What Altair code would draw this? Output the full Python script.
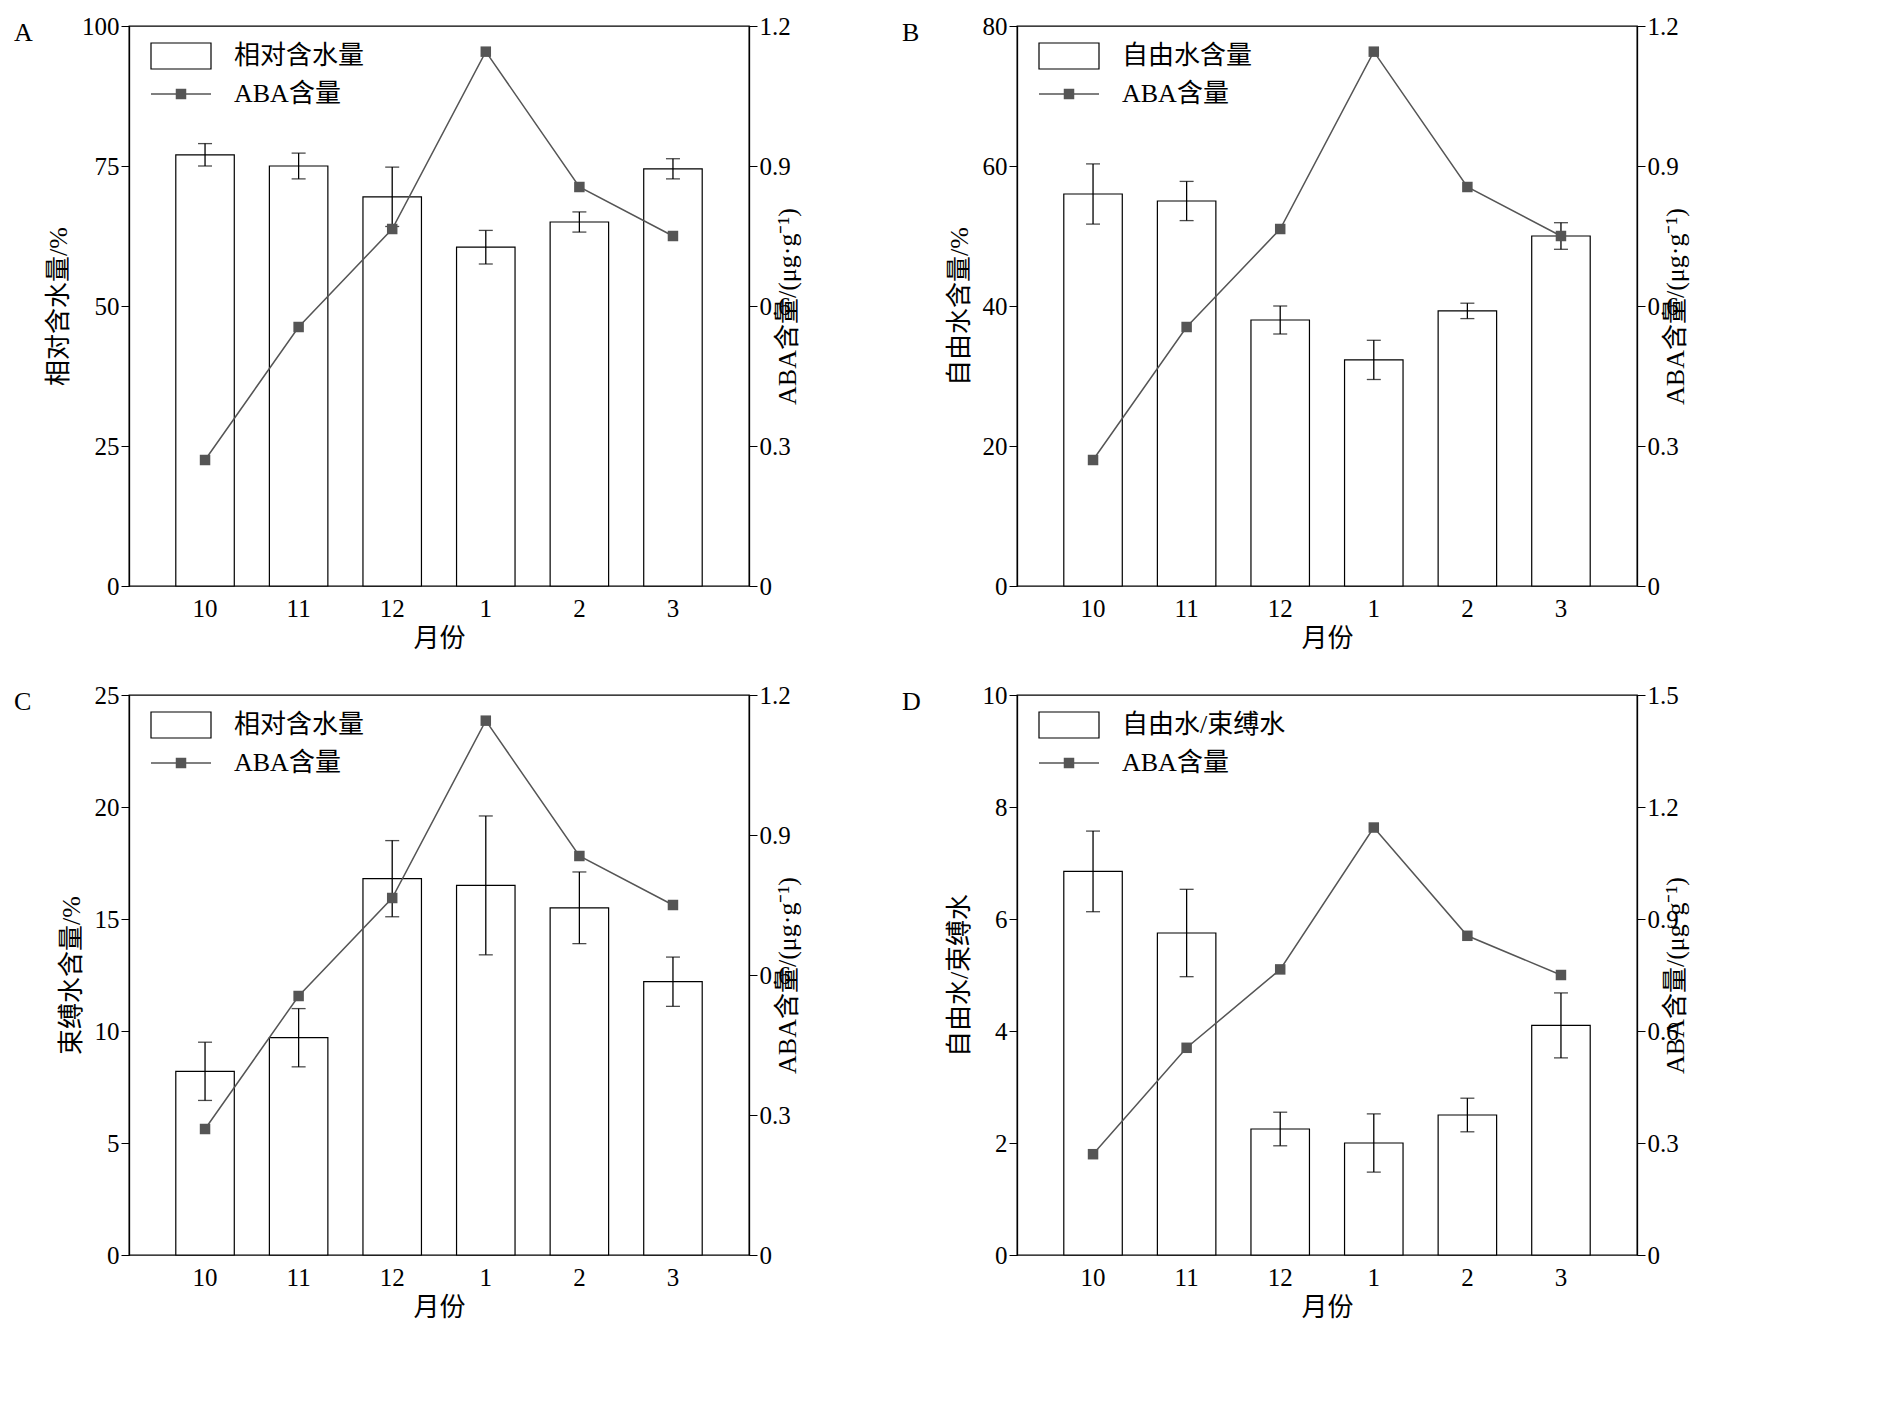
import altair as alt
import pandas as pd

months = ["10", "11", "12", "1", "2", "3"]
aba = [0.27, 0.555, 0.765, 1.145, 0.855, 0.75]

rwc = [77, 75, 69.5, 60.5, 65, 74.5]
rwc_err = [2.0, 2.3, 5.3, 3.0, 1.8, 1.8]
free = [56, 55, 38, 32.3, 39.3, 50]
free_err = [4.3, 2.8, 2.0, 2.8, 1.1, 1.9]
bound = [8.2, 9.7, 16.8, 16.5, 15.5, 12.2]
bound_err = [1.3, 1.3, 1.7, 3.1, 1.6, 1.1]
ratio = [6.85, 5.75, 2.25, 2.0, 2.5, 4.1]
ratio_err = [0.72, 0.78, 0.3, 0.52, 0.3, 0.58]

FONT = "Liberation Serif, Noto Sans CJK SC"
W, H = 620, 560


def panel(letter, vals, errs, ymax, ystep, ytitle, legend_label, rmax, rstep):
    df = pd.DataFrame({
        "m": months, "v": vals,
        "lo": [v - e for v, e in zip(vals, errs)],
        "hi": [v + e for v, e in zip(vals, errs)],
        "aba": aba,
    })
    x = alt.X("m:N", sort=months, title="月份",
              scale=alt.Scale(paddingInner=0.375, paddingOuter=0.5),
              axis=alt.Axis(labelAngle=0, ticks=False, domain=False, labelPadding=10))
    ly = alt.Scale(domain=[0, ymax], nice=False)
    base = alt.Chart(df)
    bars = base.mark_bar(fill="white", stroke="black", strokeWidth=1.2).encode(
        x=x, y=alt.Y("v:Q", scale=ly, title=ytitle,
                     axis=alt.Axis(values=list(range(0, ymax + 1, ystep)), format="d", grid=False)))
    err = base.mark_errorbar(ticks=alt.TickConfig(size=14), color="black", thickness=1.3).encode(
        x=alt.X("m:N", sort=months), y=alt.Y("lo:Q", scale=ly, title=ytitle), y2="hi:Q")
    rv = [round(i * rstep, 2) for i in range(int(round(rmax / rstep)) + 1)]
    line = base.mark_line(color="#555555", strokeWidth=1.5, point=alt.OverlayMarkDef(
        shape="square", size=110, filled=True, color="#555555")).encode(
        x=alt.X("m:N", sort=months),
        y=alt.Y("aba:Q", scale=alt.Scale(domain=[0, rmax], nice=False),
                title="ABA含量/(μg·g⁻¹)",
                axis=alt.Axis(orient="right", values=rv, labelExpr="datum.value == 0 ? '0' : format(datum.value, '.1f')",
                              grid=False, titleAngle=270)))
    # in-plot legend
    leg_df = pd.DataFrame({"t": [legend_label, "ABA含量"], "yy": [30, 68]})
    lb = alt.Chart(leg_df).transform_filter("datum.yy < 50").mark_rect(
        fill="white", stroke="black", strokeWidth=1.2).encode(
        x=alt.value(22), x2=alt.value(82), y=alt.value(17), y2=alt.value(43))
    ll = alt.Chart(leg_df).transform_filter("datum.yy > 50").mark_rule(
        color="#555555", strokeWidth=1.5).encode(x=alt.value(22), x2=alt.value(82), y=alt.value(68))
    lp = alt.Chart(leg_df).transform_filter("datum.yy > 50").mark_square(
        size=110, color="#555555", opacity=1).encode(x=alt.value(52), y=alt.value(68))
    lt = alt.Chart(leg_df).mark_text(align="left", baseline="middle", fontSize=26, font=FONT).encode(
        x=alt.value(105), y=alt.Y("yy:Q", scale=None), text="t:N")
    lab = alt.Chart(leg_df).transform_filter("datum.yy < 50").mark_text(
        align="left", baseline="top", fontSize=26, font=FONT).encode(
        x=alt.value(-115), y=alt.value(-6), text=alt.value(letter))
    left = alt.layer(bars, err, lb, ll, lp, lt, lab)
    return alt.layer(left, line).resolve_scale(y="independent").properties(width=W, height=H)


A = panel("A", rwc, rwc_err, 100, 25, "相对含水量/%", "相对含水量", 1.2, 0.3)
B = panel("B", free, free_err, 80, 20, "自由水含量/%", "自由水含量", 1.2, 0.3)
C = panel("C", bound, bound_err, 25, 5, "束缚水含量/%", "相对含水量", 1.2, 0.3)
D = panel("D", ratio, ratio_err, 10, 2, "自由水/束缚水", "自由水/束缚水", 1.5, 0.3)

chart = alt.vconcat(
    alt.hconcat(A, B, spacing=100),
    alt.hconcat(C, D, spacing=100),
    spacing=30,
).configure_view(stroke="black", strokeWidth=1.3).configure_axis(
    labelFont=FONT, titleFont=FONT, labelFontSize=25, titleFontSize=26,
    titleFontWeight="normal", labelColor="black", titleColor="black",
    domainColor="black", tickColor="black", domainWidth=1.3, tickSize=8,
    titlePadding=10,
).configure_axisX(titlePadding=4)

chart.save("out.html", embed_options={"renderer": "svg", "actions": False})
